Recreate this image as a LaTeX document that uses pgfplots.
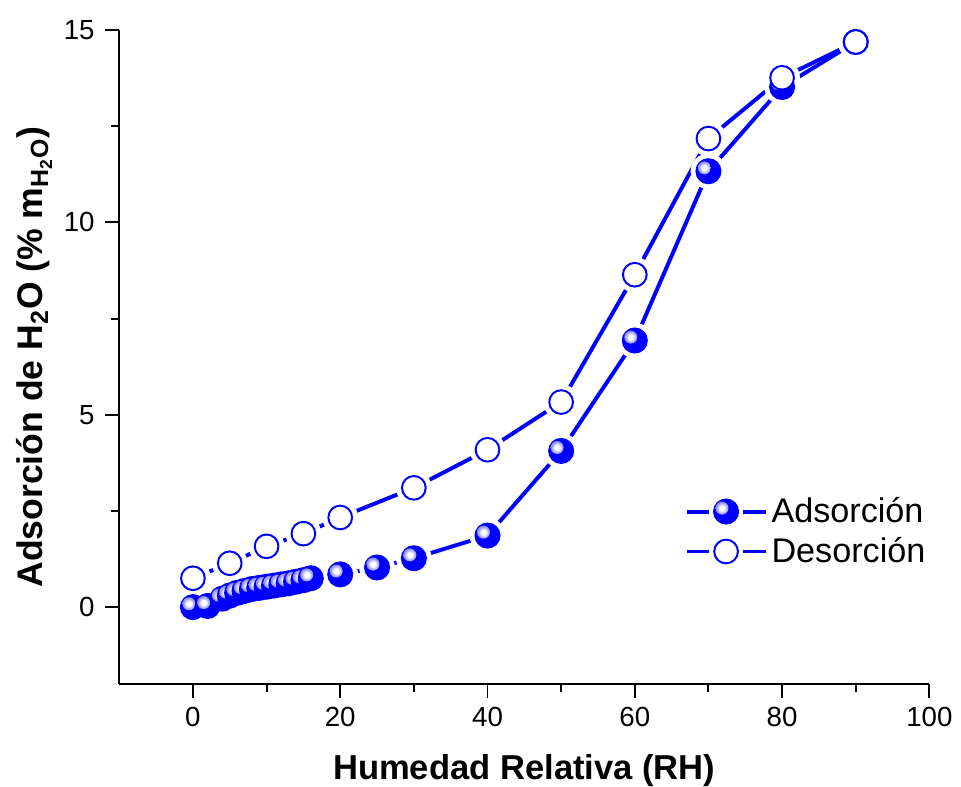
\documentclass[border=0pt]{standalone}
\usepackage{fontspec}
\setmainfont{Liberation Sans}
\usepackage{pgfplots}
\usepackage{pgfplotstable}
\pgfplotsset{compat=1.18}
\definecolor{azul}{RGB}{0,0,255}

% blue ball with a white highlight up and to the left
\pgfdeclareradialshading{brillo}{\pgfpointorigin}{%
  color(0bp)=(white); color(9bp)=(white); color(20bp)=(azul!35!white);
  color(32bp)=(azul!60!white); color(50bp)=(azul)}
\pgfdeclareplotmark{bola}{%
  \pgfpathcircle{\pgfpointorigin}{\pgfplotmarksize}%
  \pgfsetfillcolor{azul}\pgfusepathqfill
  \pgfpathcircle{\pgfpoint{-0.31\pgfplotmarksize}{0.26\pgfplotmarksize}}{0.5\pgfplotmarksize}%
  \pgfshadepath{brillo}{0}%
  \pgfusepath{}%
}

\pgfplotstableread{
x y
0 0.00
2 0.03
4 0.22
5 0.30
6 0.37
7 0.42
8 0.47
9 0.50
10 0.53
11 0.56
12 0.59
13 0.62
14 0.66
15 0.70
16 0.75
20 0.85
25 1.03
30 1.27
40 1.86
50 4.06
60 6.93
70 11.33
80 13.52
90 14.69
}\adsorcion

\pgfplotstableread{
x y
0 0.75
5 1.14
10 1.58
15 1.91
20 2.33
30 3.10
40 4.09
50 5.33
60 8.64
70 12.18
80 13.76
90 14.69
}\desorcion

\begin{document}
\begin{tikzpicture}
\begin{axis}[
  width=410pt, height=331pt, scale only axis,
  xmin=-10, xmax=100, ymin=-2, ymax=15,
  axis lines*=left,
  axis line style={line width=1pt},
  xtick={0,20,...,100}, minor x tick num=1,
  ytick={0,5,10,15}, minor y tick num=1,
  tick align=outside,
  major tick length=7pt, minor tick length=4pt,
  every tick/.style={black, line width=1pt},
  /pgf/number format/assume math mode=true,
  tick label style={font=\fontsize{14}{17}\selectfont},
  xticklabel style={yshift=-1pt},
  yticklabel style={xshift=-2pt},
  xlabel={Humedad Relativa (RH)},
  ylabel={Adsorción de H\textsubscript{2}O (\% m\textsubscript{H\textsubscript{2}O})},
  xlabel style={font=\fontsize{17.5}{21}\selectfont\bfseries, inner ysep=0pt, yshift=-10.8pt},
  ylabel style={font=\fontsize{18}{21}\selectfont\bfseries, yshift=-1pt},
  legend style={draw=none, fill=none, at={(0.69,0.298)}, anchor=north west,
    font=\fontsize{17.3}{21}\selectfont, row sep=2pt},
  legend cell align=left,
  legend image code/.code={
    \draw[azul, line width=2pt] (0pt,0pt) -- (11.5pt,0pt) (28.5pt,0pt) -- (40pt,0pt);
    \draw plot coordinates {(20pt,0pt)};
  },
]
% lines
\addplot[forget plot, azul, line width=2pt] table {\adsorcion};
\addplot[forget plot, azul, line width=2pt] table {\desorcion};
% white gaps of the line round each marker
\addplot[forget plot, white, only marks, mark=*, mark size=8.8pt] table {\adsorcion};
\addplot[forget plot, white, only marks, mark=*, mark size=8.8pt] table {\desorcion};
% markers
\addplot[only marks, mark=bola, mark size=6.6pt] table {\adsorcion};
\addlegendentry{Adsorción}
\addplot[only marks, mark=*, mark size=6pt,
  mark options={fill=white, draw=azul, line width=1pt}] table {\desorcion};
\addlegendentry{Desorción}
\end{axis}
% white margins like the original figure
\path ([xshift=-5pt,yshift=7pt]current bounding box.north west)
      ([xshift=1pt]current bounding box.south east);
\end{tikzpicture}
\end{document}
